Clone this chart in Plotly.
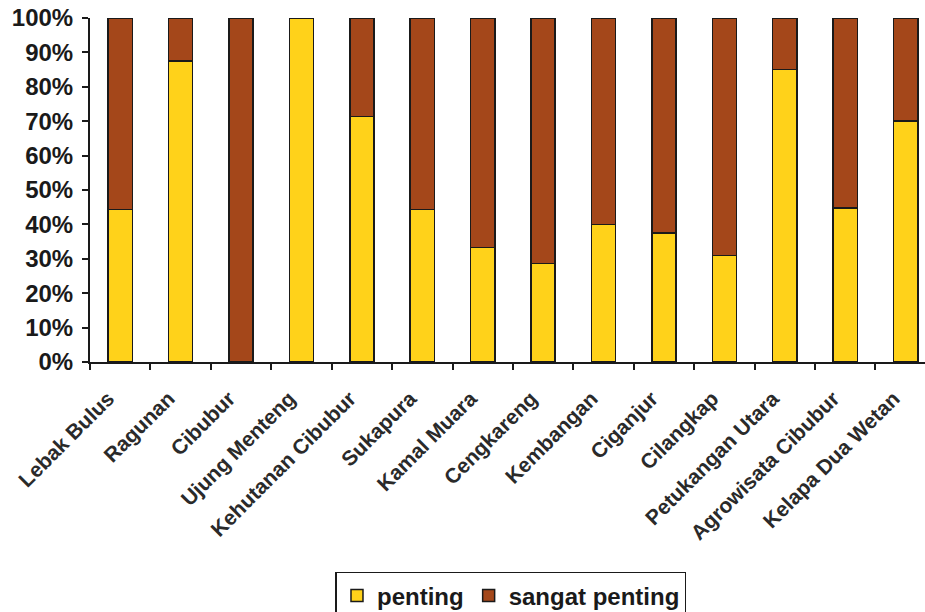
import plotly.graph_objects as go

# Sites surveyed
categories = [
    "Lebak Bulus", "Ragunan", "Cibubur", "Ujung Menteng", "Kehutanan Cibubur",
    "Sukapura", "Kamal Muara", "Cengkareng", "Kembangan", "Ciganjur",
    "Cilangkap", "Petukangan Utara", "Agrowisata Cibubur", "Kelapa Dua Wetan",
]

# Share of respondents (%) per answer
penting = [44.4, 87.5, 0.0, 100.0, 71.4, 44.4, 33.3, 28.6, 40.0, 37.5, 31.0, 85.0, 44.7, 70.0]
sangat_penting = [100 - v for v in penting]

y_ticks = list(range(0, 101, 10))
y_tick_labels = [f"{v}%" for v in y_ticks]

YELLOW = "#FFD21A"
BROWN = "#A4471A"
INK = "#1a1a1a"
FONT = "Liberation Sans"

fig = go.Figure()
fig.add_trace(go.Bar(
    name="penting", x=categories, y=penting,
    marker=dict(color=YELLOW, line=dict(color=INK, width=1.5)),
    width=0.4,
))
fig.add_trace(go.Bar(
    name="sangat penting", x=categories, y=sangat_penting,
    marker=dict(color=BROWN, line=dict(color=INK, width=1.5)),
    width=0.4,
))

fig.update_layout(
    barmode="stack",
    width=925, height=612,
    margin=dict(l=90, r=0, t=18, b=250, autoexpand=False),
    paper_bgcolor="white", plot_bgcolor="white",
    font=dict(family=FONT, color=INK, weight="bold"),
    showlegend=True,
    legend=dict(
        orientation="h", traceorder="normal",
        x=0.294, xanchor="left", y=-0.61, yanchor="top",
        bordercolor=INK, borderwidth=1.5,
        font=dict(size=24, family=FONT, color=INK, weight="bold"),
        itemwidth=30,
    ),
    xaxis=dict(
        type="category",
        range=[-0.5, 13.32],
        automargin=False,
        showline=True, linecolor=INK, linewidth=2,
        ticks="outside", tickson="boundaries", ticklen=6, tickwidth=2, tickcolor=INK,
        tickangle=-45,
        ticklabelstandoff=14, ticklabelshift=-12,
        tickfont=dict(size=21, family=FONT, color="#2a2a2a", weight="bold"),
        showgrid=False,
    ),
    yaxis=dict(
        range=[0, 100],
        automargin=False,
        tickvals=y_ticks, ticktext=y_tick_labels,
        showline=True, linecolor=INK, linewidth=2,
        ticks="outside", ticklen=6, tickwidth=2, tickcolor=INK,
        ticklabelstandoff=4,
        tickfont=dict(size=24, family=FONT, color=INK, weight="bold"),
        showgrid=False, zeroline=False,
    ),
)

fig.write_html("out.html")
